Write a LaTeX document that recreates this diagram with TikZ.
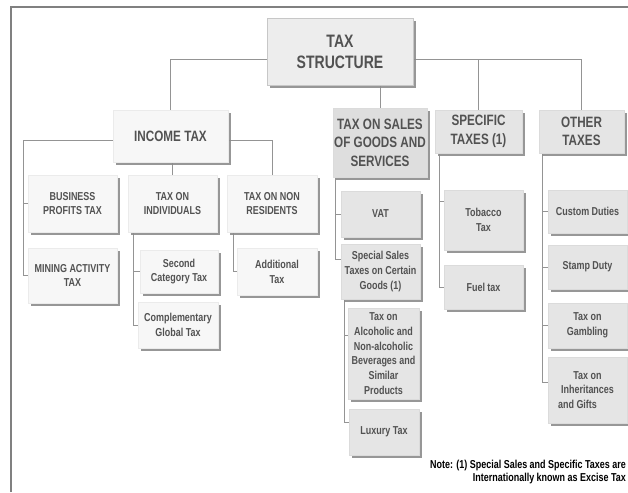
\documentclass[tikz,border=0pt]{standalone}
\usepackage{fontspec}
\setmainfont{Liberation Sans}[FakeStretch=0.78]
\usetikzlibrary{shadows,backgrounds}

\begin{document}
\begin{tikzpicture}[
  x=1pt,y=-1pt,
  conn/.style={draw=black!42,line width=0.8pt},
  frame/.style={draw=black!50,line width=1.6pt},
  box/.style={draw=black!14,fill=black!10,text=black!68,align=center,inner sep=0pt,
              font=\fontsize{11.5}{14.8}\selectfont\bfseries,
              drop shadow={shadow xshift=3pt,shadow yshift=-3pt,fill=black!45,opacity=0.9}},
  pale/.style={box,fill=black!3,draw=black!8},
  rootbox/.style={box,fill=black!7,draw=black!22,
                  font=\fontsize{18}{21}\selectfont\bfseries},
  headbox/.style={box,font=\fontsize{15}{18.5}\selectfont\bfseries},
  notetext/.style={font=\fontsize{11.5}{13.2}\selectfont\bfseries,align=right,inner sep=0pt},
]
\useasboundingbox (0,0) rectangle (628,492);

% ---- top: the whole structure ----
\node[rootbox,minimum width=146,minimum height=67] (root) at (340,51.5) {TAX\\STRUCTURE};

% ---- the four main groups ----
\node[headbox,fill=black!3,draw=black!8,minimum width=115,minimum height=52] (income) at (170.5,136) {INCOME TAX};
\node[headbox,fill=black!13,minimum width=94,minimum height=69] (sales) at (380,142.5)
     {TAX ON SALES\\OF GOODS AND\\SERVICES};
\node[headbox,minimum width=87,minimum height=43] (specific) at (478.5,131.5) {SPECIFIC\\TAXES (1)};
\node[headbox,minimum width=85,minimum height=43] (other) at (581.5,131.5) {OTHER\\TAXES};

% ---- income tax ----
\node[pale,minimum width=89,minimum height=57] (business) at (72.5,203.5) {BUSINESS\\PROFITS TAX};
\node[pale,minimum width=89,minimum height=57] (indiv) at (172.5,203.5) {TAX ON\\INDIVIDUALS};
\node[pale,minimum width=90,minimum height=57] (nonres) at (272,203.5) {TAX ON NON\\RESIDENTS};
\node[pale,minimum width=89,minimum height=55] (mining) at (72.5,275.5) {MINING ACTIVITY\\TAX};
\node[pale,minimum width=78,minimum height=43] (second) at (179,271.5) {Second\\Category Tax};
\node[pale,minimum width=80,minimum height=46] (compl) at (178,325) {Complementary\\Global Tax};
\node[pale,minimum width=80,minimum height=47] (addl) at (277,271.5) {Additional\\Tax};

% ---- sales of goods and services ----
\node[box,minimum width=79,minimum height=46] (vat) at (380.5,214) {VAT};
\node[box,minimum width=79,minimum height=55] (special) at (380.5,271.5)
     {Special Sales\\Taxes on Certain\\Goods (1)};
\node[box,minimum width=71,minimum height=91] (alco) at (383.5,353.5)
     {Tax on\\Alcoholic and\\Non-alcoholic\\Beverages and\\Similar\\Products};
\node[box,minimum width=70,minimum height=46] (luxury) at (384,432) {Luxury Tax};

% ---- specific taxes ----
\node[box,minimum width=79,minimum height=60] (tobacco) at (483.5,220) {Tobacco\\Tax};
\node[box,minimum width=79,minimum height=44] (fuel) at (483.5,287) {Fuel tax};

% ---- other taxes ----
\node[box,minimum width=79,minimum height=43] (custom) at (587.5,211.5) {Custom Duties};
\node[box,minimum width=79,minimum height=44] (stamp) at (587.5,267) {Stamp Duty};
\node[box,minimum width=79,minimum height=45] (gambling) at (587.5,325.5) {Tax on\\Gambling};
\node[box,minimum width=79,minimum height=66] (inherit) at (587.5,390)
     {Tax on\\Inheritances\\and Gifts\hspace*{20pt}};

% footnote
\node[notetext,anchor=north east] (note) at (626,460)
     {Note: (1) Special Sales and Specific Taxes are\\Internationally known as Excise Tax};

% connectors sit behind the boxes
\begin{scope}[on background layer]
  \draw[frame] (11,492) -- (11,7) -- (628,7);

  \coordinate (bus) at (340,59);
  \draw[conn] (root.west |- bus) -| (income.north);
  \draw[conn] (root.east |- bus) -| (other.north);
  \draw[conn] (specific.north) -- (specific.north |- bus);
  \draw[conn] (sales.north) -- (sales.north |- root.south);

  % income tax branches
  \draw[conn] ([yshift=-4pt]income.west) -| ([xshift=-4pt]mining.west) -- (mining.west);
  \draw[conn] ([xshift=-4pt]business.west) -- (business.west);
  \draw[conn] ([yshift=-4pt]income.east) -| (nonres.north);
  \draw[conn] (indiv.north) -- (indiv.north |- income.south);
  \draw[conn] ([xshift=6pt]indiv.south west) |- (second.west);
  \draw[conn] ([xshift=6pt]indiv.south west) |- (compl.west);
  \draw[conn] ([xshift=7pt]nonres.south west) |- (addl.west);

  % sales branches
  \draw[conn] ([xshift=3pt]sales.south west) |- (vat.west);
  \draw[conn] ([xshift=3pt]sales.south west) |- ([yshift=12pt]special.west);
  \draw[conn] ([xshift=4pt]special.south west) |- ([yshift=18pt]alco.west);
  \draw[conn] ([xshift=4pt]special.south west) |- ([yshift=10pt]luxury.west);

  % specific branches
  \draw[conn] ([xshift=5pt]specific.south west) |- ([yshift=19pt]tobacco.west);
  \draw[conn] ([xshift=5pt]specific.south west) |- (fuel.west);

  % other branches
  \draw[conn] ([xshift=4pt]other.south west) |- (custom.west);
  \draw[conn] ([xshift=4pt]other.south west) |- (stamp.west);
  \draw[conn] ([xshift=4pt]other.south west) |- (gambling.west);
  \draw[conn] ([xshift=4pt]other.south west) |- ([yshift=8pt]inherit.west);
\end{scope}

\end{tikzpicture}
\end{document}
